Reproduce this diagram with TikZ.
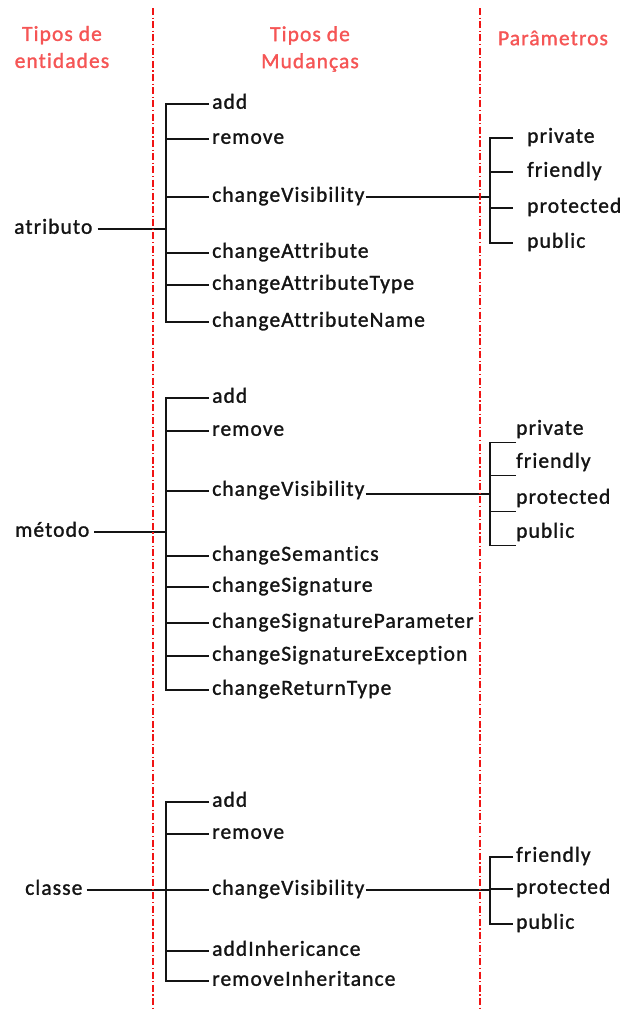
\documentclass[tikz,border=0pt]{standalone}
\usepackage{fontspec}
\setmainfont{Carlito}[LetterSpace=5, Ligatures=NoCommon, FakeBold=1.3]
\definecolor{hdrred}{RGB}{245,85,85}
\definecolor{seprred}{RGB}{240,20,20}
\definecolor{ink}{RGB}{20,20,20}
\begin{document}
\begin{tikzpicture}[x=1pt,y=-1pt,
  lbl/.style={font=\fontsize{21.5}{24}\selectfont, text=ink, anchor=west,
    inner xsep=3pt, inner ysep=0pt, text height=14pt, text depth=4.5pt},
  plbl/.style={lbl, inner xsep=0pt, inner ysep=3pt},
  hdr/.style={font=\fontsize{21.5}{27}\selectfont, text=hdrred, align=center, inner sep=0pt},
  sepline/.style={draw=seprred, line width=1.1pt, dash pattern=on 7pt off 2.5pt on 1.2pt off 2.5pt},
  conn/.style={draw=ink, line width=1.2pt}]
\useasboundingbox (0,0) rectangle (625,1012);

% headers
\node[hdr] (h1) at (62,47) {Tipos de\\entidades};
\node[hdr] (h2) at (310,49) {Tipos de\\Mudanças};
\node[hdr] (h3) at (553,38) {Parâmetros};

% ---------- atributo ----------
\coordinate (bA) at (166,0);
\coordinate (pA) at (490,0);
\node[lbl, inner xsep=0pt] (atr) at (14,229) {atributo};
\node[lbl] (a1) at (209,104) {add};
\node[lbl] (a2) at (209,139) {remove};
\node[lbl] (a3) at (209,197) {changeVisibility};
\node[lbl] (a4) at (209,253) {changeAttribute};
\node[lbl] (a5) at (209,285) {changeAttributeType};
\node[lbl] (a6) at (209,322) {changeAttributeName};
\draw[conn] (a1.west) -- (a1.west -| bA) -- (a6.west -| bA) -- (a6.west);
\foreach \n in {a2,a3,a4,a5} \draw[conn] (\n.west -| bA) -- (\n.west);
\coordinate (atrE) at ([xshift=5pt]atr.east);
\draw[conn] (atrE) -- (atrE -| bA);
\node[lbl, inner xsep=14pt] (ap1) at (513,138) {private};
\node[lbl, inner xsep=14pt] (ap2) at (513,172) {friendly};
\node[lbl, inner xsep=14pt] (ap3) at (513,208) {protected};
\node[lbl, inner xsep=14pt] (ap4) at (513,243) {public};
\draw[conn] (ap1.west) -- (ap1.west -| pA) -- (ap4.west -| pA) -- (ap4.west);
\foreach \n in {ap2,ap3} \draw[conn] (\n.west -| pA) -- (\n.west);
\coordinate (a3e) at ([xshift=-2pt]a3.east);
\draw[conn] (a3e) -- (a3e -| pA);

% ---------- metodo ----------
\node[lbl, inner xsep=0pt] (met) at (15,532) {método};
\node[lbl] (m1) at (209,398) {add};
\node[lbl] (m2) at (209,431) {remove};
\node[lbl] (m3) at (209,491) {changeVisibility};
\node[lbl] (m4) at (209,556) {changeSemantics};
\node[lbl] (m5) at (209,587) {changeSignature};
\node[lbl] (m6) at (209,623) {changeSignatureParameter};
\node[lbl] (m7) at (209,656) {changeSignatureException};
\node[lbl] (m8) at (209,690) {changeReturnType};
\draw[conn] (m1.west) -- (m1.west -| bA) -- (m8.west -| bA) -- (m8.west);
\foreach \n in {m2,m3,m4,m5,m6,m7} \draw[conn] (\n.west -| bA) -- (\n.west);
\coordinate (metE) at ([xshift=5pt]met.east);
\draw[conn] (metE) -- (metE -| bA);
\node[plbl] (mp1) at (516,430) {private};
\node[plbl] (mp2) at (516,463) {friendly};
\node[plbl] (mp3) at (516,499) {protected};
\node[plbl] (mp4) at (516,533) {public};
\draw[conn] (mp1.south west) -- (mp1.south west -| pA) -- (mp4.south west -| pA) -- (mp4.south west);
\foreach \n in {mp2,mp3} \draw[conn] (\n.south west -| pA) -- (\n.south west);
\coordinate (m3e) at ([xshift=-2pt,yshift=-3pt]m3.east);
\draw[conn] (m3e) -- (m3e -| pA);

% ---------- classe ----------
\node[lbl, inner xsep=0pt] (cla) at (25,890) {classe};
\node[lbl] (c1) at (209,802) {add};
\node[lbl] (c2) at (209,834) {remove};
\node[lbl] (c3) at (209,890) {changeVisibility};
\node[lbl] (c4) at (209,951) {addInhericance};
\node[lbl] (c5) at (209,981) {removeInheritance};
\draw[conn] (c1.west) -- (c1.west -| bA) -- (c5.west -| bA) -- (c5.west);
\foreach \n in {c2,c4} \draw[conn] (\n.west -| bA) -- (\n.west);
\coordinate (claE) at ([xshift=4pt]cla.east);
\draw[conn] (claE) -- (c3.west);
\node[lbl] (cp1) at (513,857) {friendly};
\node[lbl] (cp2) at (513,889) {protected};
\node[lbl] (cp3) at (513,924) {public};
\draw[conn] (cp1.west) -- (cp1.west -| pA) -- (cp3.west -| pA) -- (cp3.west);
\draw[conn] (cp2.west -| pA) -- (cp2.west);
\coordinate (c3e) at ([xshift=-2pt]c3.east);
\draw[conn] (c3e) -- (c3e -| pA);

% separators (on top, red)
\coordinate (s1t) at (153,8); \coordinate (s1b) at (153,1010);
\coordinate (s2t) at (480,8); \coordinate (s2b) at (480,1010);
\draw[sepline] (s2t) -- (s2b);
\draw[sepline] (s1t) -- (s1b);
\end{tikzpicture}
\end{document}
